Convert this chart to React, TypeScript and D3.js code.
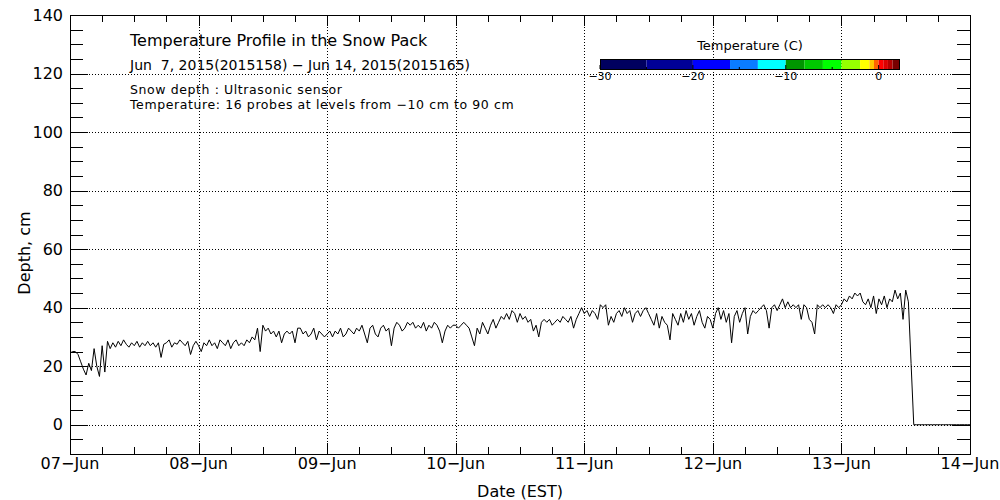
import React, { useRef, useEffect } from "react";
import * as d3 from "d3";

// snow depth (cm), one reading every 30 minutes, starting 07-Jun 00:00
const depthJun07 = [24.5, 25, 25, 24, 21.5, 19, 17, 21, 18.5, 26, 20, 16.5, 27, 18, 28.5, 26, 28, 26.5, 28.5, 27, 29, 27.5, 26.5, 28, 27, 28.5, 26.5, 28, 27, 28.5, 27, 28, 26.5, 28, 23, 27.5, 28, 29, 26.5, 28, 27.5, 29, 28, 27, 28.5, 24, 27, 28.5];
const depthJun08 = [27, 25, 28, 27, 29, 27, 28, 26, 29, 28, 27, 29, 26, 28, 29, 27, 28, 27, 29, 28, 30, 29, 33, 25, 34, 32, 33, 31, 32, 30, 32, 28, 31, 32, 31, 32, 28, 33, 33, 31, 32, 30, 31, 33, 29, 32, 31, 30];
const depthJun09 = [31, 32, 30, 32, 31, 33, 30, 31, 33, 32, 31, 33, 32, 34, 31, 28, 33, 34, 31, 30, 33, 34, 32, 33, 27, 33, 35, 34, 32, 33, 35, 34, 35, 33, 34, 33, 35, 32, 34, 33, 35, 34, 32, 28, 32, 34, 33, 34];
const depthJun10 = [34, 33, 34, 35, 34, 33, 30, 27, 33, 31, 35, 33, 31, 34, 36, 33, 35, 37, 36, 38, 36, 39, 38, 35, 38, 36, 37, 35, 36, 32, 34, 30, 35, 36, 35, 36, 34, 35, 36, 35, 37, 36, 35, 37, 33, 36, 38, 40];
const depthJun11 = [38, 39, 37, 39, 38, 36, 41, 40, 41, 34, 37, 35, 38, 39, 37, 40, 38, 39, 35, 38, 39, 37, 39, 40, 38, 36, 34, 38, 33, 37, 35, 34, 29, 38, 36, 34, 38, 35, 39, 36, 38, 34, 37, 39, 35, 33, 37, 36];
const depthJun12 = [33, 38, 40, 36, 39, 35, 38, 28, 37, 39, 35, 38, 40, 31, 37, 39, 38, 39, 40, 41, 39, 33, 40, 41, 39, 41, 43, 40, 42, 40, 41, 40, 41, 36, 41, 40, 36, 35, 31, 41, 40, 41, 40, 41, 40, 38, 41, 40];
const depthJun13 = [41, 43, 42, 44, 43, 45, 44, 45, 42, 41, 43, 40, 44, 38, 43, 41, 44, 40, 43, 42, 46, 43, 45, 36, 46, 42, 21, 0, 0, 0, 0, 0, 0, 0, 0, 0, 0, 0, 0, 0, 0, 0, 0, 0, 0, 0, 0, 0, 0];

const depthValues = [...depthJun07, ...depthJun08, ...depthJun09, ...depthJun10, ...depthJun11, ...depthJun12, ...depthJun13];

// temperature colour bar classes
const tempBreaks = [-30, -25, -20, -16, -13, -10, -8, -6, -4, -2, -1, -0.5, 0, 0.5, 1, 1.5, 2.3];
const tempColors = ["#00005f", "#000096", "#0000ff", "#0a7cff", "#00ffff", "#009600", "#00c800", "#00ff00", "#96ff00", "#ffff00", "#ffc800", "#ff6400", "#ff0000", "#dc0000", "#b40000", "#780000"];
const tempLabels = [-30, -20, -10, 0];
const tempMinor = [-25, -15, -5];

const infoLines = ["Snow depth : Ultrasonic sensor", "Temperature: 16 probes at levels from \u221210 cm to 90 cm"];

const App = () => {
    const svgRef = useRef(null);

    useEffect(() => {
        const width = 1000;
        const height = 500;
        const margin = { top: 15, right: 30, bottom: 46, left: 70 };
        const font = "DejaVu Sans";

        const svg = d3.select(svgRef.current).attr("width", width).attr("height", height);
        svg.selectAll("*").remove();

        const start = new Date(2015, 5, 7);
        const end = new Date(2015, 5, 14);
        const times = depthValues.map((_, i) => d3.timeMinute.offset(start, 30 * i));

        const x = d3.scaleTime().domain([start, end]).range([margin.left, width - margin.right]);
        const y = d3.scaleLinear().domain([-10, 140]).range([height - margin.bottom, margin.top]);
        const x0 = margin.left;
        const x1 = width - margin.right;
        const y0 = height - margin.bottom;
        const y1 = margin.top;

        svg.append("rect").attr("width", width).attr("height", height).attr("fill", "#fff");

        // grid
        const yMajor = d3.range(0, 141, 20);
        const yMinor = d3.range(-5, 141, 5).filter((v) => v % 20 !== 0);
        const days = d3.timeDay.range(start, d3.timeDay.offset(end, 1));
        const hours = d3.timeHour.every(6)!.range(start, end).filter((d) => d.getHours() !== 0);

        const grid = svg.append("g").attr("stroke", "#000").attr("stroke-width", 1).attr("stroke-dasharray", "1,2");
        yMajor.filter((v) => v < 140).forEach((v) => {
            grid.append("line").attr("x1", x0 + 19).attr("x2", x1 - 19).attr("y1", Math.round(y(v)) + 0.5).attr("y2", Math.round(y(v)) + 0.5);
        });
        days.slice(1, -1).forEach((d) => {
            grid.append("line").attr("x1", Math.round(x(d)) + 0.5).attr("x2", Math.round(x(d)) + 0.5).attr("y1", y1 + 12).attr("y2", y0 - 12);
        });

        // ticks
        const ticks = svg.append("g").attr("stroke", "#000").attr("stroke-width", 1);
        yMajor.forEach((v) => {
            const py = Math.round(y(v)) + 0.5;
            ticks.append("line").attr("x1", x0).attr("x2", x0 + 18).attr("y1", py).attr("y2", py);
            ticks.append("line").attr("x1", x1).attr("x2", x1 - 18).attr("y1", py).attr("y2", py);
        });
        yMinor.forEach((v) => {
            const py = Math.round(y(v)) + 0.5;
            ticks.append("line").attr("x1", x0).attr("x2", x0 + 13).attr("y1", py).attr("y2", py);
            ticks.append("line").attr("x1", x1).attr("x2", x1 - 13).attr("y1", py).attr("y2", py);
        });
        days.forEach((d) => {
            const px = Math.round(x(d)) + 0.5;
            ticks.append("line").attr("x1", px).attr("x2", px).attr("y1", y0).attr("y2", y0 - 11);
            ticks.append("line").attr("x1", px).attr("x2", px).attr("y1", y1).attr("y2", y1 + 11);
        });
        hours.forEach((d) => {
            const px = Math.round(x(d)) + 0.5;
            ticks.append("line").attr("x1", px).attr("x2", px).attr("y1", y0).attr("y2", y0 - 7);
            ticks.append("line").attr("x1", px).attr("x2", px).attr("y1", y1).attr("y2", y1 + 7);
        });

        // frame
        svg.append("rect")
            .attr("x", x0 + 0.5)
            .attr("y", y1 + 0.5)
            .attr("width", x1 - x0)
            .attr("height", y0 - y1)
            .attr("fill", "none")
            .attr("stroke", "#000")
            .attr("stroke-width", 1);

        // depth line
        const line = d3
            .line<number>()
            .x((_, i) => x(times[i]))
            .y((d) => y(d));
        svg.append("path").datum(depthValues).attr("d", line).attr("fill", "none").attr("stroke", "#000").attr("stroke-width", 1);

        // tick labels
        const labels = svg.append("g").attr("font-family", font).attr("fill", "#000");
        yMajor.forEach((v) => {
            labels.append("text").attr("x", x0 - 7).attr("y", y(v)).attr("dy", "0.36em").attr("text-anchor", "end").attr("font-size", 16).text(v);
        });
        const fmt = d3.timeFormat("%d\u2212%b");
        days.forEach((d) => {
            labels.append("text").attr("x", x(d)).attr("y", 469).attr("text-anchor", "middle").attr("font-size", 16).text(fmt(d));
        });

        labels.append("text").attr("x", (x0 + x1) / 2).attr("y", 497).attr("text-anchor", "middle").attr("font-size", 16).text("Date (EST)");
        labels.append("text")
            .attr("transform", `translate(30,253) rotate(-90)`)
            .attr("text-anchor", "middle")
            .attr("font-size", 16)
            .text("Depth, cm");

        // header text
        labels.append("text").attr("x", 130).attr("y", 46).attr("font-size", 16).text("Temperature Profile in the Snow Pack");
        labels.append("text")
            .attr("x", 130)
            .attr("y", 70)
            .attr("font-size", 14)
            .style("white-space", "pre")
            .text("Jun  7, 2015(2015158) \u2212 Jun 14, 2015(2015165)");
        infoLines.forEach((t, i) => {
            labels.append("text")
                .attr("x", 130)
                .attr("y", 94 + i * 15)
                .attr("font-size", 12.5)
                .attr("letter-spacing", 0.6)
                .text(t);
        });

        // colour bar
        const cx = d3.scaleLinear().domain([-30, 2.3]).range([600, 900]);
        const barTop = 59;
        const barH = 10;
        const bar = svg.append("g");
        tempColors.forEach((c, i) => {
            bar.append("rect")
                .attr("x", cx(tempBreaks[i]))
                .attr("y", barTop)
                .attr("width", cx(tempBreaks[i + 1]) - cx(tempBreaks[i]))
                .attr("height", barH)
                .attr("fill", c);
        });
        bar.append("rect")
            .attr("x", cx(-30) + 0.5)
            .attr("y", barTop + 0.5)
            .attr("width", cx(2.3) - cx(-30) - 1)
            .attr("height", barH)
            .attr("fill", "none")
            .attr("stroke", "#000");
        tempLabels.forEach((v) => {
            bar.append("line").attr("x1", cx(v)).attr("x2", cx(v)).attr("y1", barTop + barH).attr("y2", barTop + barH - 4).attr("stroke", "#000");
            bar.append("text")
                .attr("x", cx(v))
                .attr("y", 80)
                .attr("text-anchor", "middle")
                .attr("font-family", font)
                .attr("font-size", 11)
                .text(v < 0 ? `\u2212${Math.abs(v)}` : v);
        });
        tempMinor.forEach((v) => {
            bar.append("line").attr("x1", cx(v)).attr("x2", cx(v)).attr("y1", barTop + barH).attr("y2", barTop + barH - 2).attr("stroke", "#000");
        });
        bar.append("text")
            .attr("x", 750)
            .attr("y", 50)
            .attr("text-anchor", "middle")
            .attr("font-family", font)
            .attr("font-size", 13)
            .text("Temperature (C)");
    }, []);

    return <svg ref={svgRef} style={{ position: "absolute", left: 0, top: 0, display: "block" }}></svg>;
};

export default App;
